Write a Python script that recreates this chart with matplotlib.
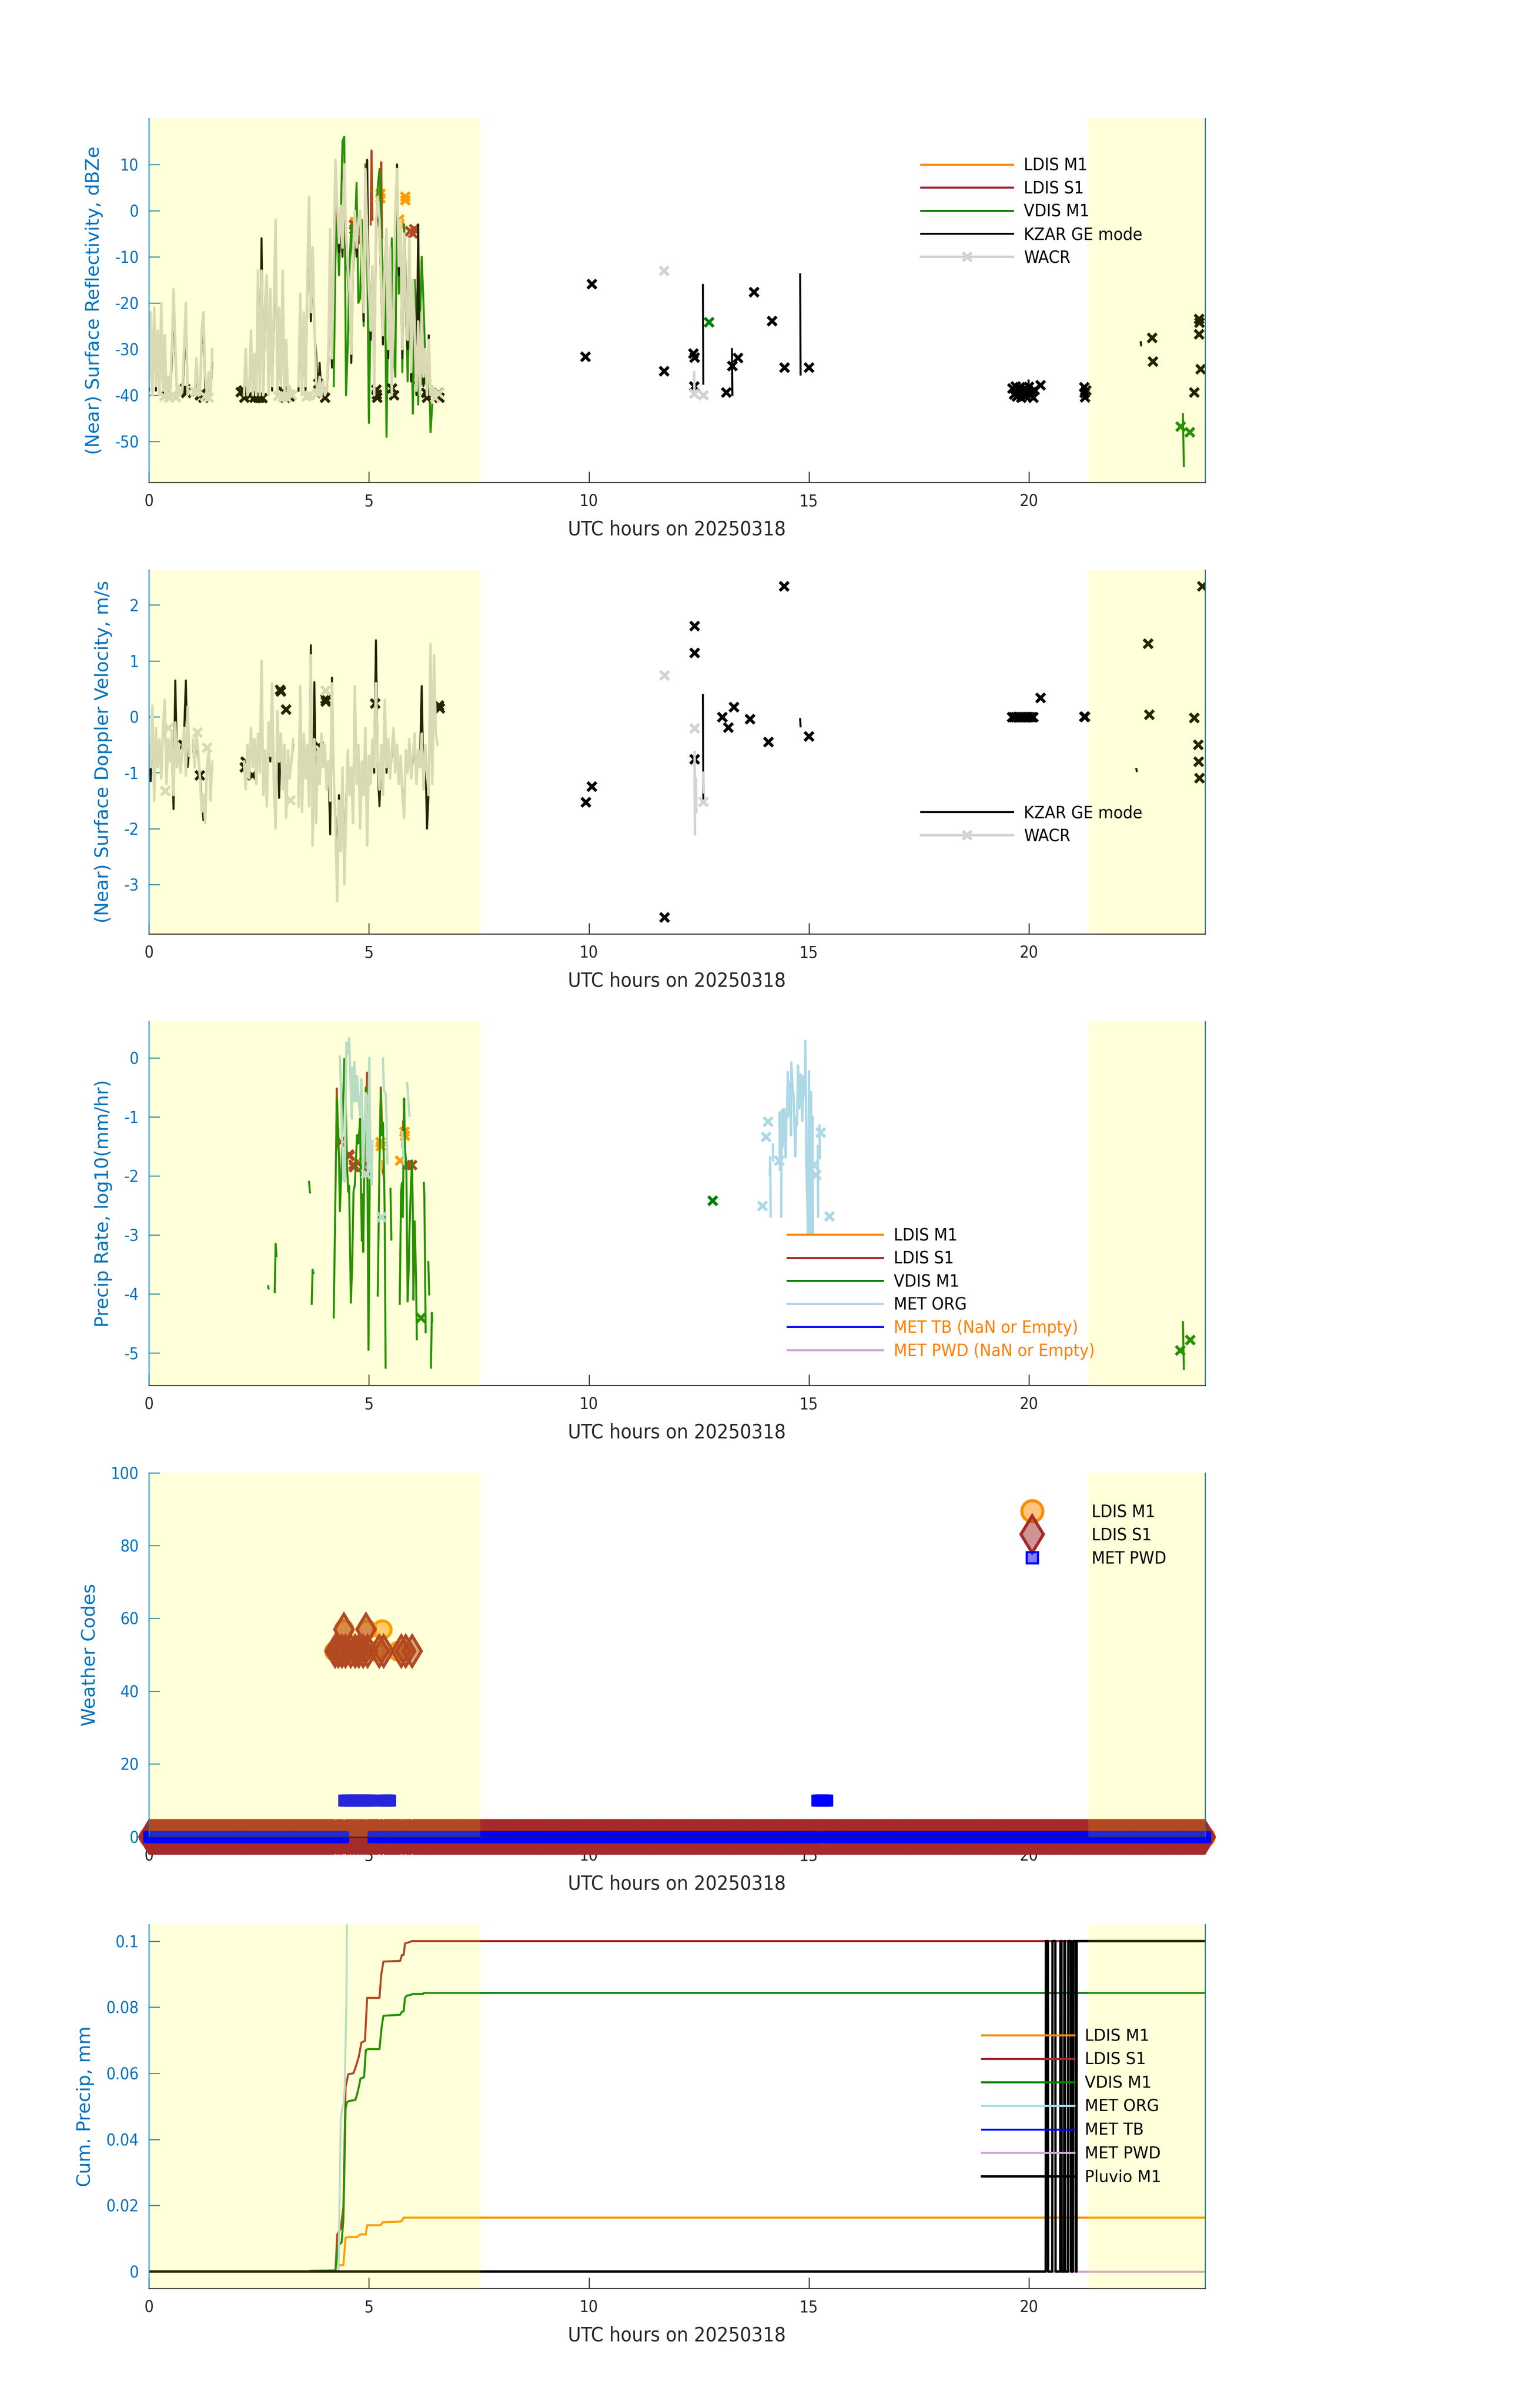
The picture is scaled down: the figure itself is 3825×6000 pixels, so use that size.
import numpy as np
import matplotlib
matplotlib.use("Agg")
import matplotlib.pyplot as plt
from matplotlib import font_manager as fm
from matplotlib.ticker import FormatStrFormatter

plt.rcParams['axes.unicode_minus'] = False

# ---------------------------------------------------------------- colours
C_LDIS_M1 = '#FF8C00'
C_LDIS_S1 = '#A52A2A'
C_VDIS = '#008000'
C_KZAR = 'black'
C_WACR = '#D3D3D3'
C_ORG = '#ADD8E6'
C_TB = '#0000FF'
C_PWD = '#DDA0DD'
C_PLUV = 'black'
AX_BLUE = '#0072BD'
AX_GRAY = '#262626'
NAN_TXT = '#FF7F00'

# daylight (shaded) periods, UTC hours
DAY_SPANS = [(0.0, 7.53), (21.35, 24.0)]

# ---------------------------------------------------------------- panel 1: reflectivity (dBZe)
# radar samples, 0.00 .. 6.60 h every 0.04 h
wacr_dbz = [
    -38, -22, -40, -21, -38, -26, -40, -20, -39, -27,
    -40, -36, -40, -30, -17, -29, -40, -38, -40, -39,
    -30, -20, -40, -39, None, -39, -40, -32, -39, -40,
    -26, -22, -36, -40, -35, -40, -30, None, None, None,
    None, None, None, None, None, None, None, None, None, None,
    None, None, None, None, -40, -30, -40, -39, -26, -40,
    -31, -40, -13, -40, -13, -40, -20, -14, -40, -17,
    -38, -21, -2, -40, -21, -38, -13, -40, -28, -40,
    -38, -40, -39, None, None, -38, -18, -40, -22, -38,
    -15, 3, -22, -8, -24, -37, -40, -36, -40, -37,
    -40, -39, -30, -4, -32, -10, 11, 1, -7, 1,
    -8, 10, -5, -12, -18, -31, -10, 0, -8, -2,
    0, -12, -22, 9, -5, -17, -26, -12, -40, -3,
    3, -2, -15, -27, -12, -4, -30, -8, -40, -20,
    0, 9, -12, -2, -30, -5, -20, -28, -6, -35,
    -15, -27, -39, -24, -40, -22, -36, -30, -40, -28,
    -40, -38, -40, -39, -40, None]
kzar_dbz = [
    -39, -25, -40, -24, -39, -28, -40, -23, -40, -30,
    -40, -38, -40, -33, -20, -31, -40, -39, -40, -40,
    -33, -24, -40, -40, None, -40, -40, -35, -40, -40,
    -29, -25, -38, -40, -37, -40, -33, None, None, None,
    None, None, None, None, None, None, None, None, None, None,
    None, None, None, None, -40, -32, -40, -40, -29, -40,
    -33, -40, -16, -40, -6, -40, -23, -17, -40, -20,
    -39, -24, -5, -40, -24, -39, -16, -40, -30, -40,
    -39, -40, -40, None, None, -39, -21, -40, -25, -39,
    -18, -1, -24, -11, -26, -31, -40, -33, -40, -39,
    -40, -40, -32, -7, -34, -12, 11, -1, -9, -1,
    -10, 8, -7, -14, -20, -33, -12, -2, -10, -4,
    -2, -14, -24, 7, 11, -19, -28, -14, -40, -5,
    1, -4, -17, -29, -14, -6, -32, -10, -40, -22,
    -2, 10, -14, -4, -32, -7, -22, -30, -8, -37,
    -17, -29, -40, -3, -40, -24, -38, -32, -40, -27,
    -40, -40, -40, -40, None, None]
kzar_dbz_late_t = [12.59, 12.60, None, 13.25, 13.26, None, 14.80, 14.81, None,
                   19.99, 20.00, None, 22.54, 22.55]
kzar_dbz_late_v = [-16.1, -37.5, None, -30.0, -39.9, None, -13.8, -35.5, None,
                   -36.8, -39.5, None, -28.5, -29.2]
kzar_dbz_pts_t = [0.82, 0.85, 1.16, 1.20, 1.24, 2.09, 2.15, 2.17, 2.30, 2.40, 2.48, 2.52, 2.58,
                  3.05, 3.10, 3.20, 3.85, 3.95, 4.00, 5.17, 5.18, 5.19, 5.53, 5.57, 6.30,
                  6.32, 6.58, 6.60, 9.92, 10.07, 11.71, 12.38, 12.40, 12.39, 13.12, 13.26,
                  13.39, 13.75, 14.16, 14.45, 15.00, 19.63, 19.66, 19.70, 19.73, 19.76,
                  19.80, 19.83, 19.86, 19.90, 19.93, 19.96, 20.00, 20.03, 20.06, 20.10,
                  20.13, 20.26, 21.26, 21.27, 21.28, 21.30, 22.80, 22.82, 23.76, 23.87,
                  23.88, 23.87, 23.90]
kzar_dbz_pts_v = [-38.5, -39.5, -40.0, -39.5, -40.5, -39.3, -39.0, -40.5, -40.0, -40.5, -40.5,
                  -40.5, -40.6, -39.2, -40.5, -40.3, -37.5, -39.5, -40.5, -38.8, -39.8,
                  -40.5, -38.5, -40.0, -39.5, -40.5, -39.5, -40.5, -31.7, -15.9, -34.8,
                  -31.0, -31.8, -38.1, -39.4, -33.7, -31.9, -17.7, -23.9, -34.0, -34.0,
                  -38.5, -39.8, -38.1, -40.3, -39.0, -38.3, -40.5, -39.5, -38.6, -40.2,
                  -39.0, -38.2, -40.0, -39.3, -40.5, -38.9, -37.8, -38.3, -39.5, -40.4,
                  -39.0, -27.6, -32.7, -39.4, -23.5, -24.3, -26.8, -34.4]
wacr_dbz_late_t = [12.39, 12.40]
wacr_dbz_late_v = [-35.0, -40.0]
wacr_dbz_pts_t = [0.35, 0.46, 0.55, 0.62, 1.05, 1.28, 1.36, 2.94, 3.05, 3.14, 3.26, 3.58, 3.66,
                  3.83, 6.50, 6.58, 11.71, 12.39, 12.60]
wacr_dbz_pts_v = [-40.3, -40.5, -40.0, -40.4, -39.2, -40.3, -40.5, -40.2, -40.4, -40.5, -40.0,
                  -40.3, -40.0, -39.6, -40.5, -39.6, -13.1, -39.7, -40.0]
# VDIS samples 4.20 .. 6.44 h every 0.04 h, then the late shower
vdis_dbz = [-38, -10, 0, -14, -2, 15, 16, -40, -29, -12,
            -3, -13, -5, 6, -20, -19, -2, -25, 10, -8,
            -46, -20, -12, -30, -6, 5, 9, -3, -20, -10,
            -49, -21, -28, -6, -30, -36, 5, -18, -4, -35,
            -3, -15, -37, -20, -24, -44, -15, -22, -42, -25,
            -10, -20, -32, -40, -30, -48, -42]
vdis_dbz_late_t = [23.50, 23.51, 23.52]
vdis_dbz_late_v = [-44.1, -50.0, -55.3]
vdis_dbz_pts_t = [6.13, 6.25, 12.73, 23.45, 23.66]
vdis_dbz_pts_v = [-36.5, -37.0, -24.2, -46.8, -48.0]
ldis_m1_dbz_t = [4.70, 4.72, 4.74]
ldis_m1_dbz_v = [-3.0, 1.0, -4.0]
ldis_m1_dbz_pts_t = [4.69, 5.26, 5.26, 5.69, 5.69, 5.83, 5.83]
ldis_m1_dbz_pts_v = [-2.5, 3.6, 2.7, -1.9, -2.8, 3.0, 2.2]
ldis_s1_dbz_t = [4.24, 4.27, 4.30, None, 5.04, 5.06, 5.08, None, 5.26, 5.28, 5.30]
ldis_s1_dbz_v = [-6.0, 3.0, -5.0, None, -3.0, 13.0, -2.0, None, -4.0, 10.5, -6.0]
ldis_s1_dbz_pts_t = [4.66, 4.67, 4.71, 4.72, 5.94, 6.00, 6.03]
ldis_s1_dbz_pts_v = [-3.1, -4.0, -5.3, -6.2, -4.5, -5.0, -4.0]

# ---------------------------------------------------------------- panel 2: Doppler velocity (m/s)
wacr_vel = [
    -0.5, -0.9, 0.2, -1.5, -0.2, -0.9, -0.4, -1.1, -0.2, 0.3,
    -1.2, -0.4, -0.8, -0.3, -1.4, -0.1, -0.9, -0.5, -1.0, -0.6,
    -0.2, -1.05, 0.18, -0.7, None, -0.4, -0.9, -0.3, -0.6, -1.1,
    -1.7, -1.4, -1.9, -0.9, -0.6, -1.5, -0.8, None, None, None,
    None, None, None, None, None, None, None, None, None, None,
    None, None, None, None, -0.8, -1.3, -0.5, -1.1, -0.2, -0.9,
    -0.4, -1.2, -0.3, -1.0, 1.0, -1.4, -0.6, -1.6, -0.1, -0.7,
    0.6, -1.2, -2.0, 0.1, -0.8, -0.3, -1.3, -0.5, -1.8, -0.6,
    -1.1, -0.8, -0.4, None, None, -1.6, 0.55, -1.7, -0.3, -1.1,
    -0.5, -1.6, 1.1, -2.3, -0.4, -1.9, -0.6, -1.2, -0.3, -0.9,
    -0.5, -1.3, -0.8, -1.5, 0.6, -1.0, -2.0, -3.3, -1.5, -2.4,
    -0.9, -3.0, -1.8, -0.6, -1.4, -0.9, -1.9, 0.55, -1.2, -0.5,
    -2.0, -0.8, -1.4, -0.2, -2.3, -0.7, -1.2, -0.4, -0.9, 0.6,
    -0.8, -1.3, -0.5, -1.4, 0.3, -0.9, -0.4, -1.1, -0.6, -0.2,
    -1.0, -0.5, -1.2, -0.7, -1.4, -1.8, -0.6, -1.0, -0.4, -1.1,
    -0.7, -0.3, -1.2, -0.6, -0.9, -0.3, -1.3, -0.5, -1.0, -1.4,
    1.3, -1.2, 1.1, -0.3, -0.5, None]
kzar_vel = [
    -0.5, -1.15, -0.2, -1.2, -0.3, -0.8, -0.5, -1.0, -0.3, 0.1,
    -1.0, -0.4, -0.8, -0.4, -1.65, 0.65, -0.9, -0.5, -1.0, -0.6,
    -0.3, 0.65, -0.9, -0.6, None, -0.5, -0.9, -0.4, -0.7, -1.0,
    -1.5, -1.85, -1.75, -0.9, -0.7, -1.3, None, None, None, None,
    None, None, None, None, None, None, None, None, None, None,
    None, None, None, None, -0.9, -1.2, -0.6, -1.0, -0.3, -0.8,
    -0.5, -1.1, -0.4, -0.9, 0.8, -1.3, -0.7, -1.5, -0.2, -0.8,
    0.5, -1.1, -1.8, -0.1, -1.45, -0.4, -1.2, -0.6, -1.6, -0.7,
    -1.0, -0.8, -0.5, None, None, -1.4, 0.4, -1.5, -0.4, -1.0,
    -0.6, -1.4, 1.28, -2.0, 0.62, -1.7, -0.7, -1.1, -0.4, -0.9,
    -0.6, -1.2, -0.9, -2.1, 0.7, -1.1, -1.8, -2.6, -1.4, -2.1,
    -1.0, -2.6, -1.6, -0.7, -1.3, -1.0, -1.7, 0.4, -1.1, -0.6,
    -1.8, -0.9, -1.3, -0.3, -2.0, -0.8, -1.1, -0.5, -1.0, 1.37,
    -0.9, -1.6, -0.6, -1.3, 0.2, -1.0, -0.5, -1.0, -0.7, -0.3,
    -0.9, -0.6, -1.1, -0.8, -1.3, -1.6, -0.7, -0.9, -0.5, -1.0,
    -0.8, -0.4, -1.1, -0.7, -0.8, 0.55, -1.2, -0.6, -2.0, -1.3,
    1.0, -1.1, 0.9, None, None, None]
kzar_vel_late_t = [12.59, 12.60, None, 14.80, 14.81, None, 22.44, 22.45]
kzar_vel_late_v = [0.39, -1.48, None, -0.04, -0.17, None, -0.93, -0.97]
kzar_vel_pts_t = [0.78, 1.16, 2.18, 2.20, 2.35, 2.98, 3.00, 3.12, 3.86, 4.01, 4.02, 5.14, 6.59,
                  6.61, 9.93, 10.07, 11.72, 12.40, 12.40, 12.40, 13.03, 13.17, 13.30, 13.66,
                  14.08, 14.44, 15.00, 19.62, 19.66, 19.70, 19.74, 19.78, 19.82, 19.86, 19.90,
                  19.94, 19.98, 20.02, 20.06, 20.10, 20.26, 21.26, 21.28, 22.71, 22.74, 23.76,
                  23.85, 23.86, 23.88, 23.94]
kzar_vel_pts_v = [-0.50, -1.05, -0.90, -0.80, -1.05, 0.48, 0.45, 0.13, -0.52, 0.32, 0.27, 0.24,
                  0.20, 0.15, -1.53, -1.25, -3.59, 1.62, 1.14, -0.76, -0.01, -0.19, 0.17,
                  -0.04, -0.45, 2.33, -0.35, -0.01, -0.01, -0.01, -0.01, -0.01, -0.01, -0.01,
                  -0.01, -0.01, -0.01, -0.01, -0.01, -0.01, 0.34, 0.00, 0.00, 1.31, 0.04,
                  -0.02, -0.50, -0.80, -1.10, 2.33]
wacr_vel_late_t = [12.40, 12.41, None, 12.43, 12.44, None, 12.60, 12.61]
wacr_vel_late_v = [-0.63, -2.10, None, -1.10, -1.70, None, -1.00, -1.35]
wacr_vel_pts_t = [0.37, 0.45, 1.10, 1.32, 3.22, 3.89, 4.01, 11.72, 12.40, 12.60]
wacr_vel_pts_v = [-1.33, -0.20, -0.28, -0.55, -1.49, -0.60, 0.47, 0.74, -0.21, -1.52]

# ---------------------------------------------------------------- panel 3: precip rate, log10(mm/hr)
vdis_rr_t = [2.71, 2.72, None, 2.86, 2.88, 2.90, None, 3.64, 3.66, None, 3.70, 3.72, 3.74, None,
             4.20, 4.27, 4.30, 4.32, 4.34, 4.38, 4.40, 4.44, 4.47, 4.50, 4.53, 4.55, 4.59, 4.62,
             4.65, 4.68, 4.73, 4.76, 4.80, 4.81, 4.84, 4.86, 4.87, 4.89, 4.93, 4.96, 4.99, 5.02,
             None, 5.20, 5.24, 5.27, 5.29, 5.32, 5.34, 5.36, 5.38, None, 5.49, 5.51, None,
             5.70, 5.73, 5.75, 5.77, 5.80, 5.82, 5.85, 5.88, 5.91, 5.92, 5.95, 5.98, 6.00, 6.01,
             6.04, 6.07, 6.09, None, 6.25, 6.26, 6.29, None, 6.35, 6.37, None, 6.41, 6.43, 6.44,
             None, 23.50, 23.52]
vdis_rr_v = [-3.87, -3.91, None, -3.97, -3.15, -3.36, None, -2.10, -2.28, None, -4.17, -3.59, -3.65,
             None, -4.40, -0.69, -1.31, -1.69, -2.60, -1.79, -1.12, -0.02, -0.60, -1.79, -2.27,
             -2.17, -4.15, -3.51, -2.27, -2.15, -1.31, -1.45, -1.03, -1.79, -3.10, -2.31, -3.29,
             -2.17, -0.50, -1.07, -4.95, -1.93, None, -4.03, -1.79, -0.55, -1.31, -1.10, -1.79,
             -2.74, -5.25, None, -2.22, -3.08, None, -4.17, -2.27, -2.12, -2.70, -0.69, -1.55,
             -1.79, -4.13, -3.46, -2.98, -2.27, -1.74, -2.74, -4.10, -2.77, -3.70, -4.77, None,
             -2.12, -2.36, -4.65, None, -3.46, -4.01, None, -5.25, -4.32, -4.46, None, -4.48,
             -5.27]
vdis_rr_pts_t = [6.18, 12.81, 23.44, 23.67]
vdis_rr_pts_v = [-4.41, -2.42, -4.96, -4.78]
ldis_s1_rr_t = [4.26, 4.27, 4.30, 4.33, None, 4.93, 4.96, 4.98, None, 5.26, 5.27, 5.30, None,
                5.32, 5.35, None, 5.76, 5.78, 5.80]
ldis_s1_rr_v = [-1.20, -0.52, -1.30, -1.45, None, -0.90, -0.25, -0.60, None, -1.00, -0.50, -1.20,
                None, -1.90, -2.10, None, -1.50, -1.07, -1.60]
ldis_s1_rr_pts_t = [4.36, 4.55, 4.56, 4.65, 4.66, 4.85, 5.87, 5.98]
ldis_s1_rr_pts_v = [-1.42, -1.64, -1.66, -1.81, -1.85, -1.85, -1.82, -1.82]
ldis_m1_rr_t = [4.28, 4.30, 4.31, None, 5.30, 5.31]
ldis_m1_rr_v = [-1.25, -1.55, -1.20, None, -1.75, -1.95]
ldis_m1_rr_pts_t = [4.73, 5.26, 5.27, 5.71, 5.81, 5.82]
ldis_m1_rr_pts_v = [-1.77, -1.43, -1.50, -1.74, -1.25, -1.32]
org_rr_t = [4.34, 4.36, 4.39, 4.42, 4.45, 4.47, 4.49, 4.52, 4.55, 4.58, 4.61, 4.62, 4.65, 4.67,
            4.71, 4.73, 4.76, 4.80, 4.83, 4.85, 4.87, 4.89, 4.93, 4.96, 4.98, 5.01, 5.03, 5.06,
            5.08, None, 5.32, 5.34, 5.38, 5.40, 5.42, None, 5.76, 5.79, None, 5.87, 5.92, None,
            14.11, 14.12, 14.13, None, 14.18, 14.19, None, 14.33, 14.34, None,
            14.37, 14.38, 14.40, 14.43, 14.45, 14.47, 14.49, 14.50, 14.52, 14.55, 14.57, 14.59,
            14.60, 14.63, 14.65, 14.69, 14.71, 14.73, 14.75, 14.78, 14.81, 14.85, 14.87, 14.90,
            14.92, 14.94, 14.98, 15.00, 15.02, 15.05, 15.06, 15.08, 15.09, None,
            15.20, 15.21, None, 15.24, 15.25]
org_rr_v = [0.02, -0.41, -1.41, -2.08, -2.10, -0.83, 0.26, 0.07, 0.33, -0.36, -1.03, -0.17, -0.74,
            -0.07, -0.74, -0.31, -0.64, -0.98, -0.36, -1.03, -1.88, -1.46, -0.60, -1.31, -2.00,
            0.00, -1.65, -2.15, -1.41, None, -0.01, -0.55, -0.60, -1.03, -1.79, None, -1.26,
            -1.79, None, -0.43, -0.98, None,
            -1.99, -1.68, -2.69, None, -1.47, -1.74, None, -0.93, -1.90, None,
            -2.69, -0.89, -1.52, -0.87, -1.02, -1.69, -0.88, -1.02, -0.24, -0.98, -0.42, -1.31,
            -0.08, -0.51, -0.64, -1.67, -1.02, -1.14, -0.13, -0.86, -0.28, -1.07, -0.31, -0.64,
            0.29, -1.75, -2.99, -0.23, -2.99, -0.58, -2.99, -0.99, -2.99, None,
            -1.50, -2.69, None, -1.15, -1.70]
org_rr_pts_t = [4.93, 5.29, 13.94, 14.03, 14.07, 14.33, 15.11, 15.17, 15.27, 15.47]
org_rr_pts_v = [-1.97, -2.70, -2.51, -1.34, -1.08, -1.74, -1.82, -1.99, -1.27, -2.69]

# ---------------------------------------------------------------- panel 4: weather codes
ldis_m1_wx_base = 0
ldis_m1_wx_events = [(4.21, 51), (4.38, 51), (4.43, 57), (4.49, 51), (4.68, 51), (4.77, 51),
                     (4.89, 51), (4.95, 57), (5.14, 51), (5.30, 57), (5.65, 51), (5.79, 51)]
ldis_s1_wx_base = 0
ldis_s1_wx_events = [(4.23, 51), (4.30, 51), (4.39, 51), (4.44, 57), (4.47, 51), (4.58, 51),
                     (4.68, 51), (4.77, 51), (4.86, 51), (4.93, 57), (4.97, 51), (5.23, 51),
                     (5.33, 51), (5.74, 51), (5.84, 51), (5.98, 51)]
met_pwd_wx_base = 0
met_pwd_wx_runs = [(4.44, 5.08, 10), (5.32, 5.48, 10), (15.19, 15.42, 10)]

# ---------------------------------------------------------------- panel 5: cumulative precip (mm)
ldis_m1_cum_t = [0, 4.30, 4.32, 4.42, 4.47, 4.50, 4.73, 4.77, 4.81, 4.93, 4.96, 5.26, 5.32, 5.71,
                 5.75, 5.79, 24]
ldis_m1_cum_v = [0, 0, 0.0019, 0.0019, 0.0102, 0.0104, 0.0104, 0.0109, 0.0112, 0.0112, 0.0140,
                 0.0140, 0.0149, 0.0151, 0.0153, 0.0163, 0.0163]
ldis_s1_cum_t = [0, 4.24, 4.28, 4.36, 4.42, 4.47, 4.53, 4.65, 4.71, 4.77, 4.83, 4.91, 4.96, 5.24,
                 5.28, 5.33, 5.71, 5.75, 5.79, 5.82, 5.95, 5.97, 24]
ldis_s1_cum_v = [0, 0, 0.0112, 0.0130, 0.0195, 0.0558, 0.0597, 0.0600, 0.0623, 0.0650, 0.0693,
                 0.0698, 0.0828, 0.0828, 0.0898, 0.0938, 0.0940, 0.0958, 0.0958, 0.0993, 0.0998,
                 0.1000, 0.1000]
vdis_cum_t = [0, 3.64, 3.66, 4.24, 4.30, 4.38, 4.42, 4.47, 4.50, 4.55, 4.69, 4.73, 4.77, 4.81,
              4.89, 4.93, 4.98, 5.24, 5.29, 5.33, 5.71, 5.75, 5.79, 5.82, 5.86, 5.95, 5.99, 6.23,
              6.25, 24]
vdis_cum_v = [0, 0, 0.0002, 0.0003, 0.0079, 0.0088, 0.0158, 0.0493, 0.0512, 0.0516, 0.0519,
              0.0535, 0.0558, 0.0584, 0.0588, 0.0670, 0.0673, 0.0673, 0.0740, 0.0774, 0.0777,
              0.0786, 0.0788, 0.0828, 0.0835, 0.0837, 0.0840, 0.0840, 0.0843, 0.0843]
org_cum_t = [0, 4.31, 4.34, 4.36, 4.39, 4.42, 4.45, 4.49, 4.50, 4.56, 4.70, 5.10, 24]
org_cum_v = [0, 0, 0.0288, 0.0456, 0.0493, 0.0502, 0.0558, 0.0828, 0.105, 0.16, 0.26, 0.33, 0.33]
tb_cum_t = [0, 24]
tb_cum_v = [None, None]
pwd_cum_t = [0, 24]
pwd_cum_v = [0, 0]
pluvio_cum_t = [0, 20.38, 20.385, 20.43, 20.435, 20.53, 20.535, 20.60, 20.605, 20.71, 20.715,
                20.74, 20.745, 20.80, 20.805, 20.82, 20.825, 20.89, 20.895, 20.95, 20.955,
                21.00, 21.005, 21.06, 21.065, 21.08, 21.085, 24]
pluvio_cum_v = [0, 0, 0.1, 0.1, 0, 0, 0.1, 0.1, 0, 0, 0.1, 0.1, 0, 0, 0.1, 0.1, 0, 0, 0.1, 0.1,
                0, 0, 0.1, 0.1, 0, 0, 0.1, 0.1]


def arr(x):
    return np.array(x, dtype=float)


# radar time base
t_rad = np.round(np.arange(0, 6.605, 0.04), 2)
t_vdis = np.round(np.arange(4.20, 6.445, 0.04), 2)


def join(t1, v1, t2, v2):
    return (np.concatenate([arr(t1), [np.nan], arr(t2)]),
            np.concatenate([arr(v1), [np.nan], arr(v2)]))


# ---------------------------------------------------------------- fonts
def pick_font(size, condensed=True):
    if condensed:
        for fam, stretch in [('DejaVu Sans', 'condensed'), ('Liberation Sans Narrow', 'condensed'),
                             ('Liberation Sans Narrow', 'normal')]:
            try:
                fp = fm.FontProperties(family=fam, stretch=stretch, size=size)
                path = fm.findfont(fp, fallback_to_default=False)
                if 'Condensed' in path or 'Narrow' in path:
                    return fm.FontProperties(fname=path, size=size)
            except Exception:
                pass
    return fm.FontProperties(family='DejaVu Sans', size=size)


fp_tick = pick_font(9.8)
fp_xlab = pick_font(12)
fp_leg = pick_font(10.4)
fp_leg_wide = pick_font(9.5, condensed=False)

XMK = dict(ls='none', marker='x', ms=5.5, mew=1.8)

fig = plt.figure(figsize=(12.75, 20), dpi=300)
AX_L, AX_W, AX_H = 0.097, 0.688, 0.1512
bottoms = [0.7997, 0.6122, 0.4247, 0.2372, 0.0497]
axes = [fig.add_axes([AX_L, b, AX_W, AX_H]) for b in bottoms]


def style(ax, ylim, yticks, ylabel):
    ax.set_xlim(0, 24)
    ax.set_ylim(*ylim)
    ax.set_xticks([0, 5, 10, 15, 20])
    ax.set_yticks(yticks)
    ax.yaxis.set_major_formatter(FormatStrFormatter('%g'))
    ax.spines['top'].set_visible(False)
    ax.spines['left'].set_color(AX_BLUE)
    ax.spines['right'].set_color(AX_BLUE)
    ax.spines['bottom'].set_color(AX_GRAY)
    for s in ax.spines.values():
        s.set_linewidth(0.6)
    ax.tick_params(axis='x', direction='in', length=6.5, width=0.6, color=AX_GRAY,
                   labelcolor=AX_GRAY, pad=7, top=False)
    ax.tick_params(axis='y', direction='in', length=6.5, width=0.6, color=AX_BLUE,
                   labelcolor=AX_BLUE, pad=6, right=False)
    for lab in ax.get_xticklabels() + ax.get_yticklabels():
        lab.set_fontproperties(fp_tick)
    ax.set_xlabel('UTC hours on 20250318', fontproperties=fp_xlab, color=AX_GRAY, labelpad=6)
    ax.set_ylabel(ylabel, fontsize=11.2, color=AX_BLUE, labelpad=7)
    for a, b in DAY_SPANS:
        ax.axvspan(a, b, color='yellow', alpha=0.15, lw=0, zorder=3)


def legend(ax, handles, labels, x, y, prop, hl=5.3, tp=0.62, ls=0.36, **kw):
    return ax.legend(handles, labels, loc='upper left', bbox_to_anchor=(x, y), frameon=False,
                     borderpad=0, borderaxespad=0, handlelength=hl, handletextpad=tp,
                     labelspacing=ls, prop=prop, numpoints=1, **kw)


# ---------------- panel 1
ax = axes[0]
h1, = ax.plot(arr(ldis_m1_dbz_t), arr(ldis_m1_dbz_v), color=C_LDIS_M1, lw=1.2)
ax.plot(arr(ldis_m1_dbz_pts_t), arr(ldis_m1_dbz_pts_v), color=C_LDIS_M1, **XMK)
h2, = ax.plot(arr(ldis_s1_dbz_t), arr(ldis_s1_dbz_v), color=C_LDIS_S1, lw=1.2)
ax.plot(arr(ldis_s1_dbz_pts_t), arr(ldis_s1_dbz_pts_v), color=C_LDIS_S1, **XMK)
tv, vv = join(t_vdis, vdis_dbz, vdis_dbz_late_t, vdis_dbz_late_v)
h3, = ax.plot(tv, vv, color=C_VDIS, lw=1.2)
ax.plot(arr(vdis_dbz_pts_t), arr(vdis_dbz_pts_v), color=C_VDIS, **XMK)
tk, vk = join(t_rad, kzar_dbz, kzar_dbz_late_t, kzar_dbz_late_v)
h4, = ax.plot(tk, vk, color=C_KZAR, lw=1.2)
ax.plot(arr(kzar_dbz_pts_t), arr(kzar_dbz_pts_v), color=C_KZAR, **XMK)
tw, vw = join(t_rad, wacr_dbz, wacr_dbz_late_t, wacr_dbz_late_v)
h5, = ax.plot(tw, vw, color=C_WACR, lw=1.5)
h5m, = ax.plot(arr(wacr_dbz_pts_t), arr(wacr_dbz_pts_v), color=C_WACR, **XMK)
style(ax, (-58.85, 20), [-50, -40, -30, -20, -10, 0, 10], '(Near) Surface Reflectivity, dBZe')
legend(ax, [h1, h2, h3, h4, (h5, h5m)], ['LDIS M1', 'LDIS S1', 'VDIS M1', 'KZAR GE mode', 'WACR'],
       0.731, 0.893, fp_leg)

# ---------------- panel 2
ax = axes[1]
tk, vk = join(t_rad, kzar_vel, kzar_vel_late_t, kzar_vel_late_v)
g1, = ax.plot(tk, vk, color=C_KZAR, lw=1.2)
ax.plot(arr(kzar_vel_pts_t), arr(kzar_vel_pts_v), color=C_KZAR, **XMK)
tw, vw = join(t_rad, wacr_vel, wacr_vel_late_t, wacr_vel_late_v)
g2, = ax.plot(tw, vw, color=C_WACR, lw=1.5)
g2m, = ax.plot(arr(wacr_vel_pts_t), arr(wacr_vel_pts_v), color=C_WACR, **XMK)
style(ax, (-3.88, 2.63), [-3, -2, -1, 0, 1, 2], '(Near) Surface Doppler Velocity, m/s')
legend(ax, [g1, (g2, g2m)], ['KZAR GE mode', 'WACR'], 0.731, 0.354, fp_leg)

# ---------------- panel 3
ax = axes[2]
r1, = ax.plot(arr(ldis_m1_rr_t), arr(ldis_m1_rr_v), color=C_LDIS_M1, lw=1.2)
ax.plot(arr(ldis_m1_rr_pts_t), arr(ldis_m1_rr_pts_v), color=C_LDIS_M1, **XMK)
r2, = ax.plot(arr(ldis_s1_rr_t), arr(ldis_s1_rr_v), color=C_LDIS_S1, lw=1.2)
ax.plot(arr(ldis_s1_rr_pts_t), arr(ldis_s1_rr_pts_v), color=C_LDIS_S1, **XMK)
r3, = ax.plot(arr(vdis_rr_t), arr(vdis_rr_v), color=C_VDIS, lw=1.2)
ax.plot(arr(vdis_rr_pts_t), arr(vdis_rr_pts_v), color=C_VDIS, **XMK)
r4, = ax.plot(arr(org_rr_t), arr(org_rr_v), color=C_ORG, lw=1.4)
ax.plot(arr(org_rr_pts_t), arr(org_rr_pts_v), color=C_ORG, **XMK)
r5, = ax.plot([0, 24], [np.nan, np.nan], color=C_TB, lw=1.2)
r6, = ax.plot([0, 24], [np.nan, np.nan], color=C_PWD, lw=1.2)
style(ax, (-5.55, 0.62), [-5, -4, -3, -2, -1, 0], 'Precip Rate, log10(mm/hr)')
lg = legend(ax, [r1, r2, r3, r4, r5, r6],
            ['LDIS M1', 'LDIS S1', 'VDIS M1', 'MET ORG', 'MET TB (NaN or Empty)',
             'MET PWD (NaN or Empty)'], 0.6045, 0.434, fp_leg, hl=5.5)
lg.get_texts()[4].set_color(NAN_TXT)
lg.get_texts()[5].set_color(NAN_TXT)

# ---------------- panel 4
ax = axes[3]
minutes = np.arange(0, 24 * 60 + 1) / 60.0


def codes(base, events=(), runs=()):
    c = np.full(minutes.size, float(base))
    for t, code in events:
        c[int(round(t * 60))] = code
    for t0, t1, code in runs:
        c[int(round(t0 * 60)):int(round(t1 * 60)) + 1] = code
    return c


w1, = ax.plot(minutes, codes(ldis_m1_wx_base, ldis_m1_wx_events), ls='none', marker='o', ms=10.5,
              mew=1.8, mec=C_LDIS_M1, mfc=(1.0, 0.549, 0.0, 0.5), clip_on=False)
w2, = ax.plot(minutes, codes(ldis_s1_wx_base, ldis_s1_wx_events), ls='none', marker='d', ms=13,
              mew=1.8, mec=C_LDIS_S1, mfc=(0.647, 0.165, 0.165, 0.5), clip_on=False)
w3, = ax.plot(minutes, codes(met_pwd_wx_base, runs=met_pwd_wx_runs), ls='none', marker='s',
              ms=5.6, mew=1.3, mec=C_TB, mfc=(0.0, 0.0, 1.0, 0.5), clip_on=False)
style(ax, (0, 100), [0, 20, 40, 60, 80, 100], 'Weather Codes')
legend(ax, [w1, w2, w3], ['LDIS M1', 'LDIS S1', 'MET PWD'], 0.820, 0.914, fp_leg,
       hl=2.0, tp=2.4, ls=0.36, markerscale=1.2)

# ---------------- panel 5
ax = axes[4]
c1, = ax.plot(arr(ldis_m1_cum_t), arr(ldis_m1_cum_v), color=C_LDIS_M1, lw=1.2)
c2, = ax.plot(arr(ldis_s1_cum_t), arr(ldis_s1_cum_v), color=C_LDIS_S1, lw=1.2)
c3, = ax.plot(arr(vdis_cum_t), arr(vdis_cum_v), color=C_VDIS, lw=1.2)
c4, = ax.plot(arr(org_cum_t), arr(org_cum_v), color=C_ORG, lw=1.2)
c5, = ax.plot(arr(tb_cum_t), arr(tb_cum_v), color=C_TB, lw=1.2)
c6, = ax.plot(arr(pwd_cum_t), arr(pwd_cum_v), color=C_PWD, lw=1.2)
c7, = ax.plot(arr(pluvio_cum_t), arr(pluvio_cum_v), color=C_PLUV, lw=1.4)
style(ax, (-0.0051, 0.1051), [0, 0.02, 0.04, 0.06, 0.08, 0.1], 'Cum. Precip, mm')
legend(ax, [c1, c2, c3, c4, c5, c6, c7],
       ['LDIS M1', 'LDIS S1', 'VDIS M1', 'MET ORG', 'MET TB', 'MET PWD', 'Pluvio M1'],
       0.789, 0.714, fp_leg_wide, hl=5.8, tp=0.66, ls=0.47)

fig.savefig('out.png', dpi=300)
